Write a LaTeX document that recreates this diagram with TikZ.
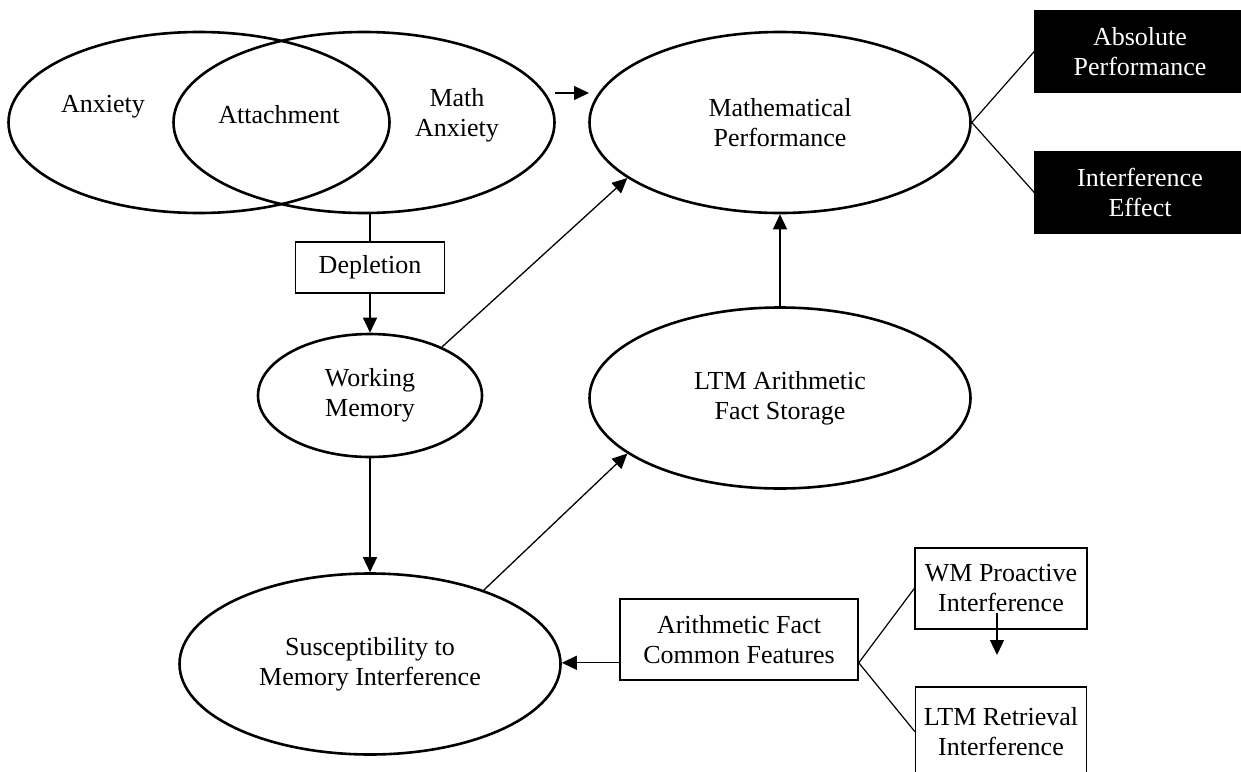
\documentclass[tikz,border=0pt]{standalone}
\usepackage{fontspec}
\setmainfont{Liberation Serif}
\usetikzlibrary{arrows.meta,positioning,shapes.geometric}

\begin{document}
\begin{tikzpicture}[
    x=1pt, y=-1pt,
    on grid,
    font=\fontsize{26pt}{30pt}\selectfont,
    oval/.style={draw,ellipse,line width=2.6pt,inner sep=0pt,align=center,minimum width=381pt,minimum height=181pt},
    wmoval/.style={oval,minimum width=224pt,minimum height=123pt},
    box/.style={draw,line width=1.5pt,align=center,inner sep=0pt,minimum height=81pt},
    blk/.style={box,fill=black,text=white},
    lbl/.style={align=center,inner sep=0pt},
    arr/.style={-{Triangle[length=15pt,width=14pt]},line width=1.3pt},
    lnk/.style={line width=1.2pt}
]
\useasboundingbox (0,0) rectangle (1241,771);

% overlapping anxiety ovals
\node[oval] (anx) at (199,122.5) {};
\node[oval,right=165pt of anx] (mathanx) {};
\node[lbl,above left=15.5pt and 96pt of anx] (anxtxt) {Anxiety};
\node[lbl,above right=7.5pt and 80pt of anx] (atttxt) {Attachment};
\node[lbl,above right=7.5pt and 93pt of mathanx] (matxt) {Math\\Anxiety};

% performance and its measures
\node[oval,right=416pt of mathanx] (mathperf) {Mathematical\\Performance};
\node[blk,minimum width=210pt,above right=71pt and 360pt of mathperf] (absperf) {Absolute\\Performance};
\node[blk,minimum width=210pt,below=141pt of absperf] (intereff) {Interference\\Effect};

% memory
\node[box,minimum width=149pt,minimum height=51pt,below right=145pt and 6pt of mathanx] (depl) {Depletion};
\node[wmoval,below=128pt of depl] (wm) {Working\\Memory};
\node[oval,below=275.5pt of mathperf] (ltm) {LTM Arithmetic\\Fact Storage};
\node[oval,below=268.5pt of wm] (susc) {Susceptibility to\\Memory Interference};

% interference sources
\node[box,minimum width=238pt,above right=24.5pt and 369pt of susc] (afcf) {Arithmetic Fact\\Common Features};
\node[box,minimum width=172pt,above right=51pt and 262pt of afcf] (wmpi) {WM Proactive\\Interference};
\node[box,minimum width=171pt,minimum height=89pt,below=143pt of wmpi] (ltmri) {LTM Retrieval\\Interference};

\coordinate (maL) at (555,93);
\coordinate (maR) at (589,93);
\coordinate (wmA) at (997,613);
\coordinate (wmB) at (997,655);

\draw[arr] (maL) -- (maR);
\draw[lnk] (mathperf.east) -- (absperf.west);
\draw[lnk] (mathperf.east) -- (intereff.west);
\draw[lnk] (depl.north) -- (depl.north |- mathanx.south);
\draw[arr] (depl.south) -- (wm.north);
\draw[arr] (wm.south) -- (susc.north);
\draw[arr] (wm.34) -- (mathperf.200);
\draw[arr] (ltm.north) -- (mathperf.south);
\draw[arr] (susc.33) -- (ltm.200);
\draw[arr] (afcf.191) -- (afcf.191 -| susc.east);
\draw[lnk] (afcf.-11) -- (wmpi.west);
\draw[lnk] (afcf.-11) -- (ltmri.west);
\draw[arr] (wmA) -- (wmB);
\end{tikzpicture}
\end{document}
